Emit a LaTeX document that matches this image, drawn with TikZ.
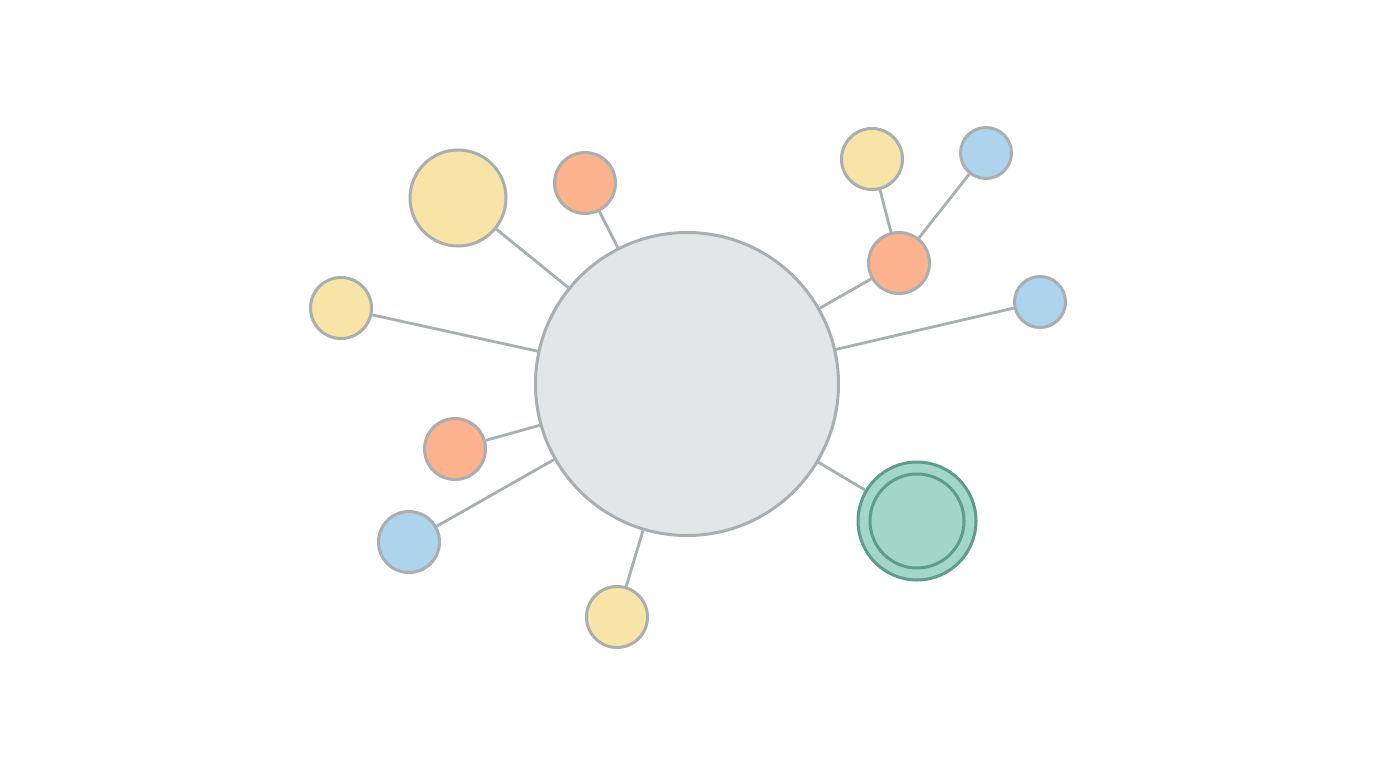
\documentclass[tikz,border=0pt]{standalone}
\definecolor{edgegray}{HTML}{A9AEB1}
\definecolor{hubfill}{HTML}{E3E6E7}
\definecolor{yel}{HTML}{F9E4A8}
\definecolor{ora}{HTML}{FBB28D}
\definecolor{blu}{HTML}{AED3EC}
\definecolor{grn}{HTML}{A2D7C8}
\definecolor{grnline}{HTML}{5F9C8C}
\begin{document}
\begin{tikzpicture}[x=1pt,y=-1pt,
  dot/.style={circle,draw=edgegray,line width=3pt,inner sep=0pt,minimum size=#1},
  link/.style={draw=edgegray,line width=2.8pt},
  yeldot/.style={dot=#1,fill=yel},
  oradot/.style={dot=#1,fill=ora},
  bludot/.style={dot=#1,fill=blu}]
\useasboundingbox[fill=white] (0,0) rectangle (1376,768);
\node[dot=303pt,fill=hubfill] (hub) at (687,384) {};
\node[yeldot=96pt] (y1) at (458,198) {};
\node[oradot=61pt] (o1) at (585,183) {};
\node[yeldot=61pt] (y2) at (341,308) {};
\node[oradot=61pt] (o2) at (455,449) {};
\node[bludot=61pt] (b1) at (409,542) {};
\node[yeldot=61pt] (y3) at (617,617) {};
\node[oradot=61pt] (o3) at (899,263) {};
\node[yeldot=61pt] (y4) at (872,159) {};
\node[bludot=51pt] (b2) at (986,153) {};
\node[bludot=51pt] (b3) at (1040,302) {};
\node[circle,draw=grnline,fill=grn,line width=3pt,inner sep=0pt,minimum size=118pt] (g) at (917,521) {};
\node[circle,draw=grnline,line width=3pt,inner sep=0pt,minimum size=94pt] (gi) at (917,521) {};
\path[link] (hub) -- (y1);
\path[link] (hub) -- (o1);
\path[link] (hub) -- (y2);
\path[link] (hub) -- (o2);
\path[link] (hub) -- (b1);
\path[link] (hub) -- (y3);
\path[link] (hub) -- (o3);
\path[link] (hub) -- (b3);
\path[link] (hub) -- (g);
\path[link] (o3) -- (y4);
\path[link] (o3) -- (b2);
\end{tikzpicture}
\end{document}
